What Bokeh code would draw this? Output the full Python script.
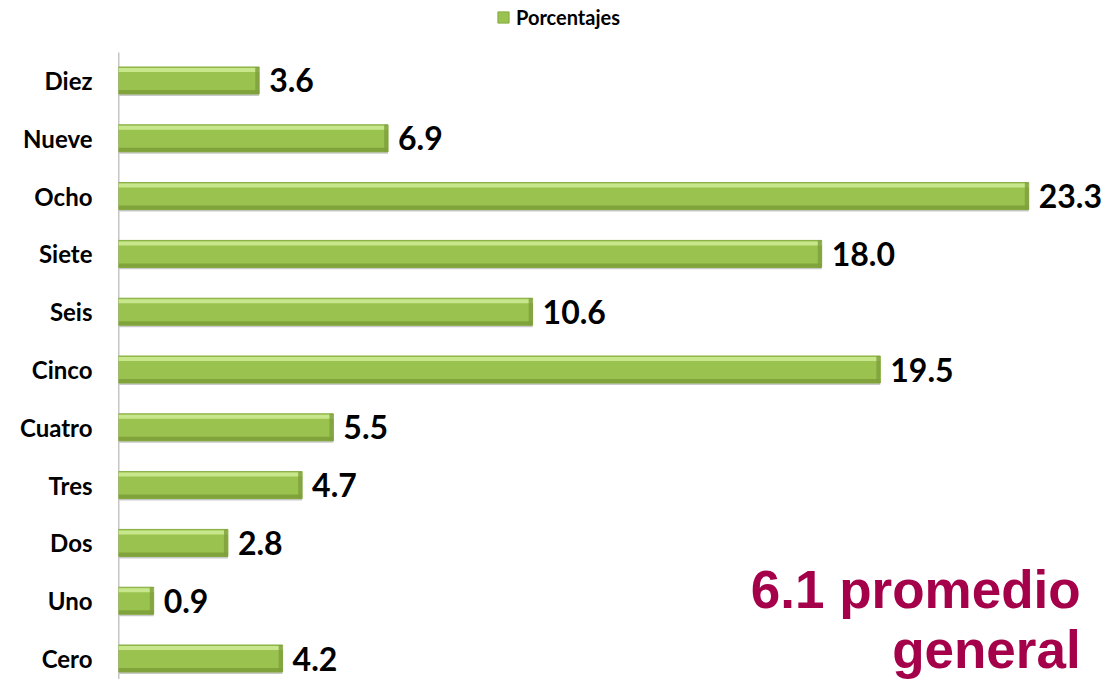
from bokeh.plotting import figure
from bokeh.models import ColumnDataSource, FixedTicker, Range1d, Legend, LegendItem, Label
from bokeh.core.properties import value
from bokeh.embed import file_html
from bokeh.resources import INLINE

categories = ["Cero", "Uno", "Dos", "Tres", "Cuatro", "Cinco", "Seis", "Siete", "Ocho", "Nueve", "Diez"]
values = [4.2, 0.9, 2.8, 4.7, 5.5, 19.5, 10.6, 18.0, 23.3, 6.9, 3.6]
series_name = "Porcentajes"
note_lines = ["6.1 promedio", "general"]

positions = list(range(len(categories)))
src = ColumnDataSource(dict(
    y=positions,
    v=values,
    lab=[f"{v:.1f}" for v in values],
    y_hi=[q + 0.182 for q in positions],
    y_lo=[q - 0.199 for q in positions],
    y_sh=[q - 0.25 for q in positions],
    bevel_left=[v - 0.1 for v in values],
))

y_start, y_end = -0.363, 11.384
axis_top = 10.484

p = figure(width=1104, height=679, x_range=Range1d(0, 25.24), y_range=Range1d(y_start, y_end),
           output_backend="svg", toolbar_location=None,
           min_border_left=118, min_border_right=0, min_border_top=0, min_border_bottom=0)
p.outline_line_color = None
p.grid.visible = False
p.xaxis.visible = False

p.segment(x0=[0], y0=[y_start], x1=[0], y1=[axis_top], line_color="#8C8C8C", line_width=1.5)

p.hbar(y="y_sh", right="v", left=0, height=0.035, source=src, fill_color="#C9C9C9", line_color=None)
main = p.hbar(y="y", right="v", left=0, height=0.467, source=src,
              fill_color="#9AC24F", line_color="#86AC40", line_width=1)
p.hbar(y="y_hi", right="v", left=0, height=0.069, source=src, fill_color="#C8E78C", line_color=None)
p.hbar(y="y_lo", right="v", left=0, height=0.069, source=src, fill_color="#80A43B", line_color=None)
p.hbar(y="y", right="v", left="bevel_left", height=0.467, source=src, fill_color="#7E9F3C",
       fill_alpha=0.8, line_color=None)

p.text(x="v", y="y", text="lab", source=src, x_offset=10, text_baseline="middle", text_align="left",
       text_font=value("Lato"), text_font_style="bold", text_font_size="32px", text_color="#000000")

yax = p.yaxis[0]
yax.ticker = FixedTicker(ticks=positions)
yax.major_label_overrides = {q: c for q, c in zip(positions, categories)}
yax.major_tick_line_color = None
yax.minor_tick_line_color = None
yax.axis_line_color = None
yax.major_label_standoff = 20
yax.major_label_text_font = "Lato"
yax.major_label_text_font_style = "bold"
yax.major_label_text_font_size = "24px"
yax.major_label_text_color = "#000000"

legend = Legend(items=[LegendItem(label=series_name, renderers=[main])], orientation="horizontal",
                location=(378, 650), glyph_width=14, glyph_height=14, label_text_font="Lato",
                label_text_font_style="bold", label_text_font_size="20px", label_text_color="#000000",
                border_line_color=None, background_fill_alpha=0, padding=2, margin=0,
                label_standoff=6, label_height=14)
p.add_layout(legend, "center")

note_color = "#A5004A"
p.add_layout(Label(x=24.63, y=1.2, text=note_lines[0], text_align="right", text_baseline="alphabetic",
                   text_font="Liberation Sans", text_font_style="bold", text_font_size="53px", text_color=note_color))
p.add_layout(Label(x=24.63, y=0.16, text=note_lines[1], text_align="right", text_baseline="alphabetic",
                   text_font="Liberation Sans", text_font_style="bold", text_font_size="53px", text_color=note_color))

open("out.html", "w").write(file_html(p, INLINE))
